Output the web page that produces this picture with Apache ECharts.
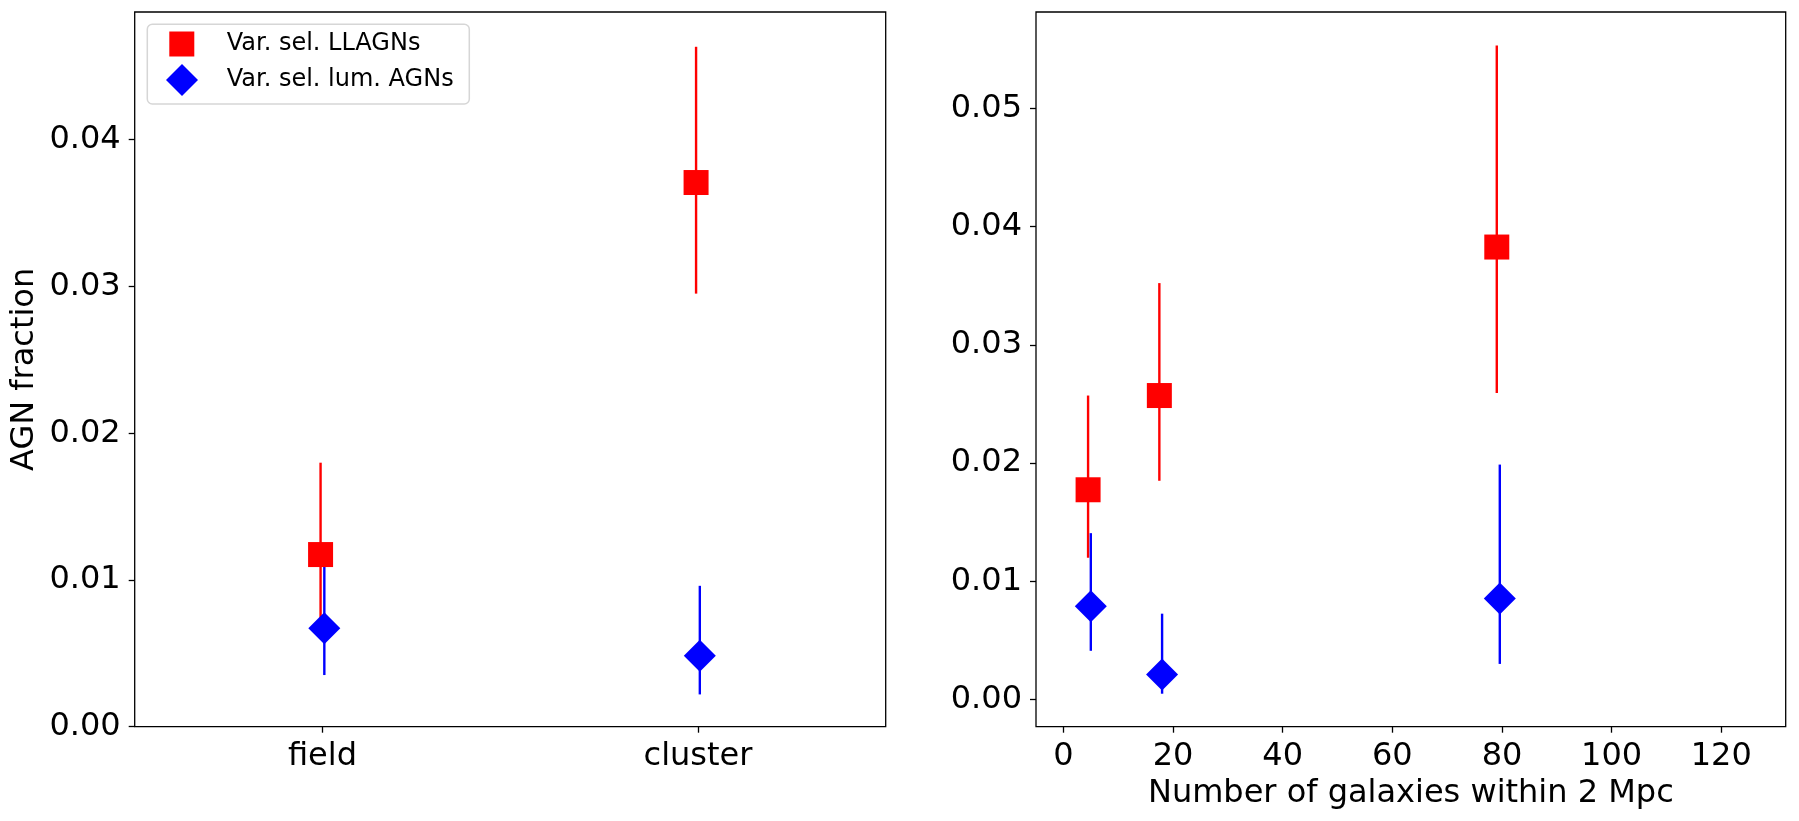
<!DOCTYPE html>
<html>
<head>
<meta charset="utf-8">
<title>AGN fraction</title>
<script src="https://cdn.jsdelivr.net/npm/echarts@6/dist/echarts.min.js"></script>
<style>
  html, body { margin: 0; padding: 0; background: #fff; }
  #chart { width: 1799px; height: 821px; }
</style>
</head>
<body>
<div id="chart"></div>
<script>
// left panel: field / cluster
const envCategories = ['field', 'cluster'];
const envLLAGN = [0.01173, 0.03708];
const envLLAGNLow = [0.0072, 0.02951];
const envLLAGNHigh = [0.01799, 0.04633];
const envLumAGN = [0.0067, 0.00484];
const envLumAGNLow = [0.00352, 0.0022];
const envLumAGNHigh = [0.0112, 0.0096];

// right panel: number of galaxies within 2 Mpc
const nGalLLAGN = [4.5, 17.5, 79.05];
const nGalLumAGN = [5.0, 18.0, 79.6];
const richLLAGN = [0.01774, 0.02571, 0.03827];
const richLLAGNLow = [0.01199, 0.0185, 0.02593];
const richLLAGNHigh = [0.02571, 0.03522, 0.05531];
const richLumAGN = [0.00788, 0.00212, 0.00854];
const richLumAGNLow = [0.00412, 0.00049, 0.00301];
const richLumAGNHigh = [0.01407, 0.00726, 0.01987];

// tick labels
const leftYTicks = [0, 0.01, 0.02, 0.03, 0.04];
const rightYTicks = [0, 0.01, 0.02, 0.03, 0.04, 0.05];
const rightXTicks = [0, 20, 40, 60, 80, 100, 120];

const nameLL = 'Var. sel. LLAGNs';
const nameLum = 'Var. sel. lum. AGNs';
const RED = '#ff0000';
const BLUE = '#0000ff';
const FONT = 'DejaVu Sans';
const dodge = 0.005; // small horizontal shift between the two samples

let chart = echarts.init(document.getElementById('chart'), null, { renderer: 'canvas' });

// vertical error bar drawn through the axis scales
function errorBars(color) {
  return function (params, api) {
    let p1 = api.coord([api.value(0), api.value(1)]);
    let p2 = api.coord([api.value(0), api.value(2)]);
    return {
      type: 'line',
      shape: { x1: p1[0], y1: p1[1], x2: p2[0], y2: p2[1] },
      style: { stroke: color, lineWidth: 2.4 }
    };
  };
}

function zip3(a, b, c) {
  return a.map((v, i) => [v, b[i], c[i]]);
}

const leftXLL = envCategories.map((c, i) => i - dodge);
const leftXLum = envCategories.map((c, i) => i + dodge);

const axisCommon = {
  axisLine: { show: false, onZero: false },
  splitLine: { show: false },
  axisTick: { show: true, length: 6, lineStyle: { color: '#000', width: 1.3 } },
  axisLabel: { color: '#000', fontSize: 32, fontFamily: FONT, margin: 14 }
};

chart.setOption({
  animation: false,
  grid: [
    { left: 134.7, right: 913.3, top: 12, bottom: 94.3, show: true, borderColor: '#000', borderWidth: 1.3 },
    { left: 1036, right: 13.3, top: 12, bottom: 94.3, show: true, borderColor: '#000', borderWidth: 1.3 }
  ],
  xAxis: [
    {
      gridIndex: 0, type: 'value', min: -0.5, max: 1.5,
      ...axisCommon,
      axisTick: { ...axisCommon.axisTick, customValues: [0, 1] },
      axisLabel: {
        ...axisCommon.axisLabel,
        customValues: [0, 1],
        formatter: v => envCategories[Math.round(v)]
      }
    },
    {
      gridIndex: 1, type: 'value', min: -5, max: 131.75,
      ...axisCommon,
      axisTick: { ...axisCommon.axisTick, customValues: rightXTicks },
      axisLabel: { ...axisCommon.axisLabel, customValues: rightXTicks },
      name: 'Number of galaxies within 2 Mpc',
      nameLocation: 'middle',
      nameGap: 41,
      nameTextStyle: { color: '#000', fontSize: 32, fontFamily: FONT }
    }
  ],
  yAxis: [
    {
      gridIndex: 0, type: 'value', min: 0, max: 0.0487,
      ...axisCommon,
      axisTick: { ...axisCommon.axisTick, customValues: leftYTicks },
      axisLabel: { ...axisCommon.axisLabel, customValues: leftYTicks, formatter: v => v.toFixed(2) },
      name: 'AGN fraction',
      nameLocation: 'middle',
      nameGap: 94,
      nameTextStyle: { color: '#000', fontSize: 32, fontFamily: FONT }
    },
    {
      gridIndex: 1, type: 'value', min: -0.0023, max: 0.05815,
      ...axisCommon,
      axisTick: { ...axisCommon.axisTick, customValues: rightYTicks },
      axisLabel: { ...axisCommon.axisLabel, customValues: rightYTicks, formatter: v => v.toFixed(2) }
    }
  ],
  //legend box
  graphic: [
    {
      type: 'rect', z: 1,
      shape: { x: 147.3, y: 24.3, width: 322, height: 79.7, r: 5 },
      style: { fill: 'rgba(255,255,255,0.8)', stroke: '#d6d6d6', lineWidth: 1.5 }
    }
  ],
  legend: [
    {
      data: [nameLL], left: 169.3, top: 31.5, padding: 0, z: 3,
      itemWidth: 25, itemHeight: 25, selectedMode: false,
      textStyle: { color: '#000', fontSize: 24, fontFamily: FONT, padding: [0, 0, 0, 27.4] }
    },
    {
      data: [nameLum], left: 166, top: 64, padding: 0, z: 3,
      itemWidth: 32, itemHeight: 32, selectedMode: false,
      textStyle: { color: '#000', fontSize: 24, fontFamily: FONT, padding: [0, 0, 0, 23.7] }
    }
  ],
  series: [
    // error bars first, markers on top
    {
      type: 'custom', name: 'errLL0', xAxisIndex: 0, yAxisIndex: 0, z: 1, silent: true,
      renderItem: errorBars(RED), encode: { x: 0, y: [1, 2] },
      data: zip3(leftXLL, envLLAGNLow, envLLAGNHigh)
    },
    {
      type: 'custom', name: 'errLum0', xAxisIndex: 0, yAxisIndex: 0, z: 1, silent: true,
      renderItem: errorBars(BLUE), encode: { x: 0, y: [1, 2] },
      data: zip3(leftXLum, envLumAGNLow, envLumAGNHigh)
    },
    {
      type: 'custom', name: 'errLL1', xAxisIndex: 1, yAxisIndex: 1, z: 1, silent: true,
      renderItem: errorBars(RED), encode: { x: 0, y: [1, 2] },
      data: zip3(nGalLLAGN, richLLAGNLow, richLLAGNHigh)
    },
    {
      type: 'custom', name: 'errLum1', xAxisIndex: 1, yAxisIndex: 1, z: 1, silent: true,
      renderItem: errorBars(BLUE), encode: { x: 0, y: [1, 2] },
      data: zip3(nGalLumAGN, richLumAGNLow, richLumAGNHigh)
    },
    {
      type: 'scatter', name: nameLL, xAxisIndex: 0, yAxisIndex: 0, z: 3,
      symbol: 'rect', symbolSize: 25, itemStyle: { color: RED, opacity: 1 },
      data: leftXLL.map((x, i) => [x, envLLAGN[i]])
    },
    {
      type: 'scatter', name: nameLum, xAxisIndex: 0, yAxisIndex: 0, z: 3,
      symbol: 'diamond', symbolSize: 32, itemStyle: { color: BLUE, opacity: 1 },
      data: leftXLum.map((x, i) => [x, envLumAGN[i]])
    },
    {
      type: 'scatter', name: nameLL, xAxisIndex: 1, yAxisIndex: 1, z: 3,
      symbol: 'rect', symbolSize: 25, itemStyle: { color: RED, opacity: 1 },
      data: nGalLLAGN.map((x, i) => [x, richLLAGN[i]])
    },
    {
      type: 'scatter', name: nameLum, xAxisIndex: 1, yAxisIndex: 1, z: 3,
      symbol: 'diamond', symbolSize: 32, itemStyle: { color: BLUE, opacity: 1 },
      data: nGalLumAGN.map((x, i) => [x, richLumAGN[i]])
    }
  ]
});
</script>
</body>
</html>
